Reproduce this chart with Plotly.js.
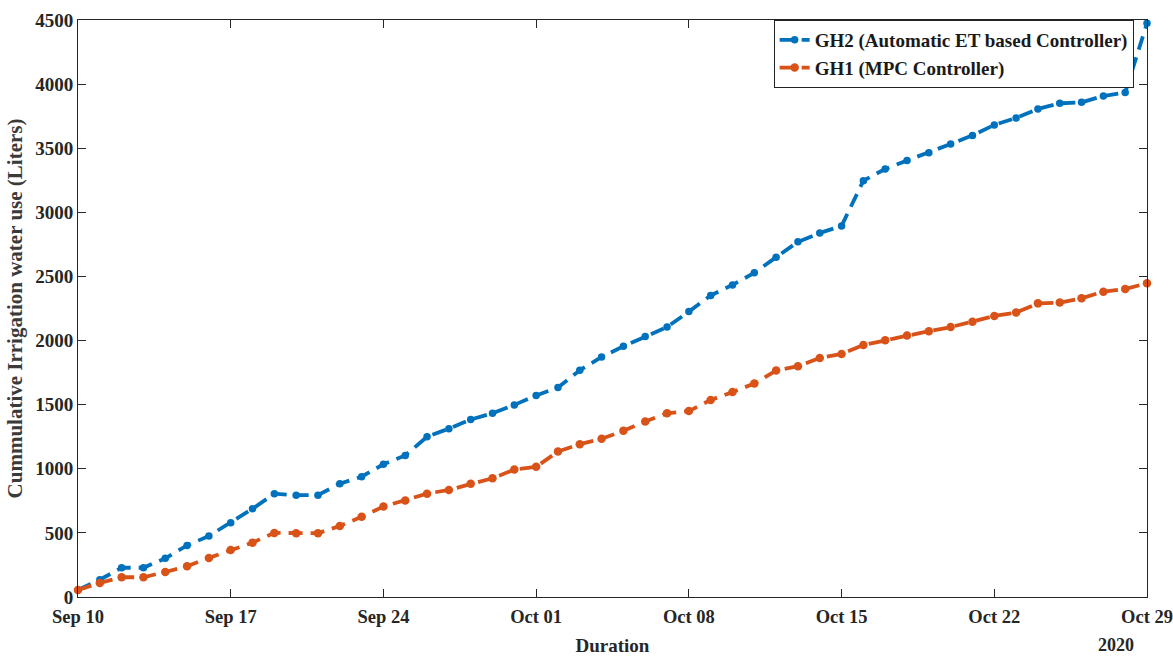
<!DOCTYPE html>
<html>
<head>
<meta charset="utf-8">
<script src="https://cdn.plot.ly/plotly-3.0.1.min.js"></script>
<style>
html,body{margin:0;padding:0;background:#fff;}
#chart{width:1173px;height:656px;}
</style>
</head>
<body>
<div id="chart"></div>
<script>
// Day-by-day dates, Sep 10 .. Oct 29 2020
const nDays = 50;
const dates = [];
for (let i = 0; i < nDays; i++) {
  const d = new Date(Date.UTC(2020, 8, 10 + i));
  dates.push(d.toISOString().slice(0, 10));
}

// GH2 (Automatic ET based Controller) cumulative use (Liters)
const gh2 = [55, 135, 228, 228, 302, 402, 476, 580, 688, 806,
             794, 794, 884, 938, 1035, 1104, 1250, 1313, 1384, 1433,
             1498, 1572, 1633, 1768, 1872, 1955, 2031, 2105, 2226, 2352,
             2434, 2528, 2650, 2770, 2839, 2894, 3247, 3338, 3404, 3465,
             3533, 3600, 3682, 3736, 3806, 3850, 3858, 3908, 3934, 4475];

// GH1 (MPC Controller) cumulative use (Liters)
const gh1 = [55, 110, 154, 154, 195, 240, 305, 367, 424, 500,
             497, 497, 554, 625, 705, 752, 806, 835, 884, 926,
             994, 1015, 1134, 1192, 1234, 1296, 1368, 1433, 1450, 1537,
             1598, 1665, 1766, 1800, 1864, 1895, 1965, 2003, 2040, 2073,
             2105, 2147, 2192, 2218, 2290, 2296, 2330, 2381, 2402, 2447];

const xTickVals = ['2020-09-10', '2020-09-17', '2020-09-24', '2020-10-01',
                   '2020-10-08', '2020-10-15', '2020-10-22', '2020-10-29'];
const xTickText = ['Sep 10', 'Sep 17', 'Sep 24', 'Oct 01',
                   'Oct 08', 'Oct 15', 'Oct 22', 'Oct 29'];
const yTickVals = [0, 500, 1000, 1500, 2000, 2500, 3000, 3500, 4000, 4500];

const FONT = 'Liberation Serif, Times New Roman, serif';
const AX = '#262626';

const traces = [
  {
    x: dates, y: gh2, type: 'scatter', mode: 'lines+markers',
    name: '<b>GH2 (Automatic ET based Controller)</b>',
    line: {color: '#0072BD', width: 3.8, dash: '14px,8px'},
    marker: {color: '#0072BD', size: 7.5, symbol: 'circle'},
    cliponaxis: false
  },
  {
    x: dates, y: gh1, type: 'scatter', mode: 'lines+markers',
    name: '<b>GH1 (MPC Controller)</b>',
    line: {color: '#D95319', width: 3.8, dash: '14px,8px'},
    marker: {color: '#D95319', size: 8.5, symbol: 'circle'},
    cliponaxis: false
  }
];

const layout = {
  width: 1173, height: 656,
  margin: {l: 78, r: 26, t: 20, b: 59},
  paper_bgcolor: '#fff', plot_bgcolor: '#fff',
  font: {family: FONT, color: AX},
  showlegend: true,
  legend: {
    x: 0.9875, xanchor: 'right', y: 1, yanchor: 'top',
    bgcolor: '#fff', bordercolor: '#222', borderwidth: 1,
    font: {family: FONT, size: 19, color: '#1a1a1a'},
    tracegroupgap: 0, itemwidth: 30
  },
  xaxis: {
    type: 'date',
    range: ['2020-09-10', '2020-10-29'],
    tickmode: 'array', tickvals: xTickVals, ticktext: xTickText.map(t => '<b>' + t + '</b>'),
    ticks: 'inside', ticklen: 8, tickcolor: AX, tickwidth: 1,
    showline: true, linecolor: AX, linewidth: 1, mirror: 'ticks',
    showgrid: false, zeroline: false,
    ticklabelstandoff: 3, ticklabeloverflow: 'allow',
    tickfont: {family: FONT, size: 18.5, color: AX},
    title: {text: '<b>Duration</b>', font: {family: FONT, size: 19, color: AX}, standoff: 14}
  },
  yaxis: {
    range: [0, 4500],
    tickmode: 'array', tickvals: yTickVals, ticktext: yTickVals.map(v => '<b>' + v + '</b>'),
    ticks: 'inside', ticklen: 8, tickcolor: AX, tickwidth: 1,
    showline: true, linecolor: AX, linewidth: 1, mirror: 'ticks',
    showgrid: false, zeroline: false,
    tickfont: {family: FONT, size: 19, color: AX},
    title: {text: '<b>Cummulative Irrigation water use (Liters)</b>', font: {family: FONT, size: 21, color: '#3a3a3a'}, standoff: 6}
  },
  annotations: [
    {
      text: '<b>2020</b>', xref: 'paper', yref: 'paper', x: 0.971, y: 0,
      xanchor: 'center', yanchor: 'top', yshift: -36, showarrow: false,
      font: {family: FONT, size: 18, color: AX}
    }
  ]
};

Plotly.newPlot('chart', traces, layout, {displayModeBar: false, staticPlot: true});
</script>
</body>
</html>
